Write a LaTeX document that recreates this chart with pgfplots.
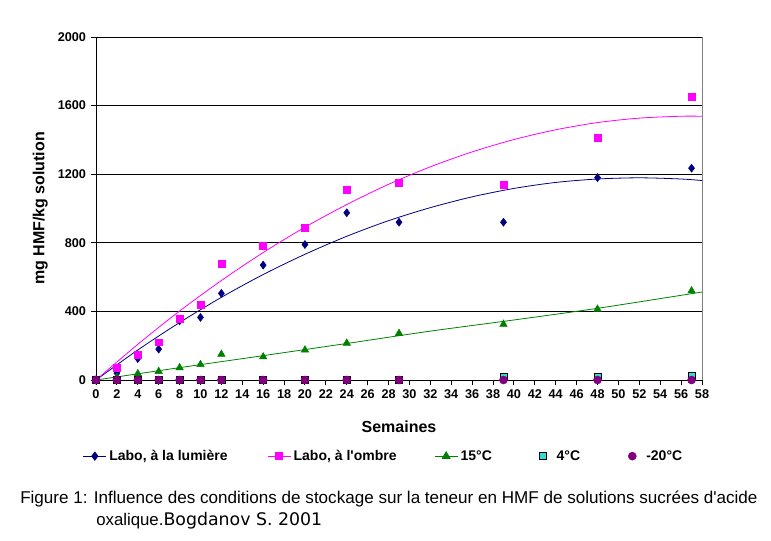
\documentclass[border=0pt]{standalone}
\usepackage{pgfplots}
\pgfplotsset{compat=1.18}
\usepackage{fontspec}
\setmainfont{Liberation Sans}
\newfontfamily\dejavu{DejaVu Sans}
\definecolor{cnavy}{RGB}{0,0,128}
\definecolor{cmag}{RGB}{255,0,255}
\definecolor{cgreen}{RGB}{0,128,0}
\definecolor{ccyan}{RGB}{51,220,220}
\definecolor{cpurple}{RGB}{128,0,128}
\pgfplotsset{
  frame/.style={at={(72pt,120pt)}, anchor=south west,
    scale only axis, width=454.5pt, height=257.25pt},
  legax/.style={frame, hide axis, xmin=0, xmax=1, ymin=0, ymax=1,
    legend style={draw=none, fill=none, at={(axis description cs:#1,-0.222)}, anchor=west,
    font=\bfseries\fontsize{10.5}{12}\selectfont}},
}
\begin{document}
\begin{tikzpicture}[x=1pt,y=1pt]
\path[use as bounding box] (0,0) rectangle (578.25,405);
\begin{axis}[
  frame,
  xmin=0, xmax=58, ymin=0, ymax=2000,
  xtick={0,2,...,58}, ytick={0,400,...,2000},
  axis x line*=bottom, axis y line*=left,
  axis line style={line width=0.7pt, black, -},
  tick align=outside, major tick length=4pt,
  tick style={line width=0.7pt, black},
  ymajorgrids, grid style={line width=0.7pt, black},
  /pgf/number format/assume math mode=true,
  /pgf/number format/1000 sep={},
  ticklabel style={font=\bfseries\fontsize{9.5}{11}\selectfont},
  xlabel={Semaines}, ylabel={mg HMF/kg solution},
  label style={font=\bfseries\fontsize{12}{14}\selectfont},
  xlabel style={at={(axis description cs:0.5,-0.137)}, anchor=center},
  ylabel style={at={(axis description cs:-0.092,0.5)}, anchor=center, rotate=0},
  clip=false,
]
\draw[gray, line width=0.7pt] (rel axis cs:1,0) -- (rel axis cs:1,1);

% trend lines
\addplot[cnavy, line width=0.6pt, smooth, no marks] coordinates {
(0,0) (4,175) (8,335) (12,482) (16,615) (20,733) (24,838) (28,929) (32,1005) (36,1068) (40,1117) (44,1152) (48,1172) (52,1179) (56,1172) (58,1163)};
\addplot[cmag, line width=0.6pt, smooth, no marks] coordinates {
(0,0) (4,208) (8,402) (12,580) (16,743) (20,891) (24,1023) (28,1141) (32,1243) (36,1330) (40,1402) (44,1459) (48,1501) (52,1527) (56,1538) (58,1538)};
\addplot[cgreen, line width=0.6pt, smooth, no marks] coordinates {
(0,0) (8,72) (16,142) (24,213) (32,285) (40,350) (48,418) (58,513)};

% data
\addplot[only marks, mark=diamond*, mark size=3pt, mark options={fill=cnavy, draw=cnavy}] coordinates {
(0,0) (2,40) (4,125) (6,180) (8,345) (10,365) (12,505) (16,670) (20,790) (24,975) (29,920) (39,920) (48,1180) (57,1235)};
\addplot[only marks, mark=square*, mark size=2.6pt, mark options={fill=cmag, draw=cmag}] coordinates {
(0,0) (2,70) (4,145) (6,220) (8,355) (10,440) (12,680) (16,785) (20,885) (24,1110) (29,1150) (39,1140) (48,1415) (57,1650)};
\addplot[only marks, mark=triangle*, mark size=3.2pt, mark options={fill=cgreen, draw=cgreen}] coordinates {
(0,0) (2,15) (4,37) (6,50) (8,72) (10,90) (12,150) (16,135) (20,175) (24,215) (29,272) (39,325) (48,413) (57,520)};
\addplot[only marks, mark=square*, mark size=2.6pt, mark options={fill=ccyan, draw=black}] coordinates {
(0,0) (2,0) (4,0) (6,0) (8,0) (10,0) (12,0) (16,0) (20,0) (24,0) (29,0) (39,18) (48,18) (57,27)};
\addplot[only marks, mark=*, mark size=3pt, mark options={fill=cpurple, draw=cpurple}] coordinates {
(0,0) (2,0) (4,0) (6,0) (8,0) (10,0) (12,0) (16,0) (20,0) (24,0) (29,0) (39,0) (48,0) (57,0)};
\end{axis}

\begin{axis}[legax=-0.0285]
\addlegendimage{cnavy, line width=0.7pt, mark=diamond*, mark size=3pt, mark options={fill=cnavy, draw=cnavy}}
\addlegendentry{Labo, à la lumière}
\end{axis}
\begin{axis}[legax=0.2756]
\addlegendimage{cmag, line width=0.7pt, mark=square*, mark size=2.6pt, mark options={fill=cmag, draw=cmag}}
\addlegendentry{Labo, à l\textquotesingle ombre}
\end{axis}
\begin{axis}[legax=0.5512]
\addlegendimage{cgreen, line width=0.7pt, mark=triangle*, mark size=3.2pt, mark options={fill=cgreen, draw=cgreen}}
\addlegendentry{15°C}
\end{axis}
\begin{axis}[legax=0.7252]
\addlegendimage{only marks, mark=square*, mark size=2.6pt, mark options={fill=ccyan, draw=black}}
\addlegendentry{\hspace*{5.5pt}4°C}
\end{axis}
\begin{axis}[legax=0.8713]
\addlegendimage{only marks, mark=*, mark size=3pt, mark options={fill=cpurple, draw=cpurple}}
\addlegendentry{\hspace*{5.5pt}-20°C}
\end{axis}

\node[anchor=base west, inner sep=0pt, font=\fontsize{12.8}{14}\selectfont] at (15,27.75) {Figure 1: Influence des conditions de stockage sur la teneur en HMF de solutions sucrées d\textquotesingle acide};
\node[anchor=base west, inner sep=0pt] at (72,11.25) {\fontsize{12.6}{14}\selectfont oxalique.{\dejavu\fontsize{13}{15}\selectfont Bogdanov S. 2001}};
\end{tikzpicture}
\end{document}
